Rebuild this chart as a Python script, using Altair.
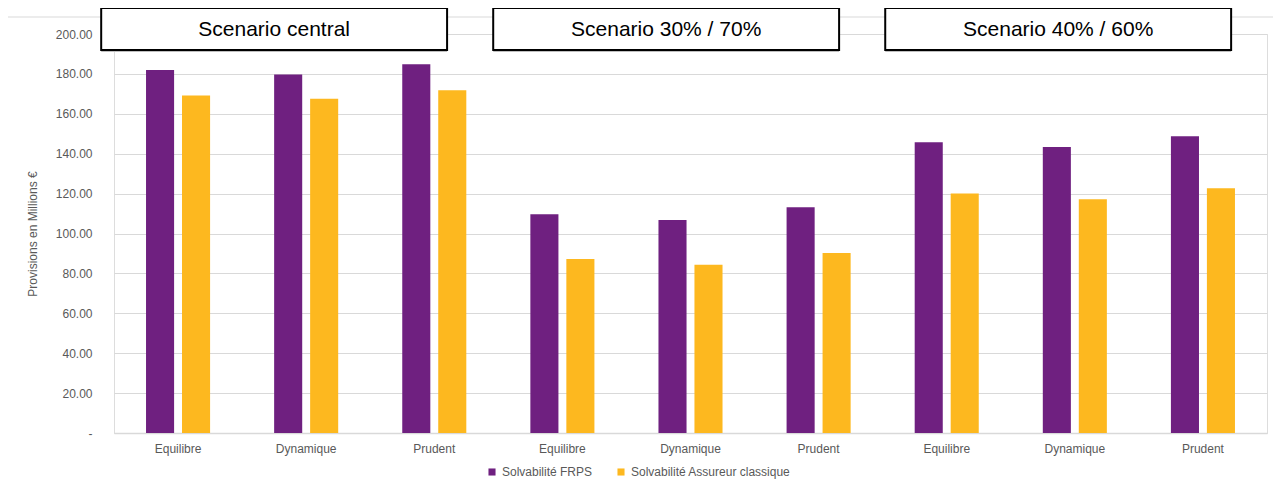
import altair as alt
import pandas as pd

scenarios = ["Scenario central", "Scenario 30% / 70%", "Scenario 40% / 60%"]
strategies = ["Equilibre", "Dynamique", "Prudent"]
series = ["Solvabilité FRPS", "Solvabilité Assureur classique"]
frps = [182.0, 179.7, 184.8, 109.7, 106.8, 113.2, 145.8, 143.3, 148.8]
assureur = [169.2, 167.5, 171.8, 87.2, 84.3, 90.2, 120.0, 117.2, 122.7]

rows = []
keys = []
i = 0
for s in scenarios:
    for st in strategies:
        key = f"{s}|{st}"
        keys.append(key)
        rows.append({"key": key, "serie": series[0], "value": frps[i]})
        rows.append({"key": key, "serie": series[1], "value": assureur[i]})
        i += 1
df = pd.DataFrame(rows)

GREY = "#595959"
FONT = "Liberation Sans"

bars = alt.Chart(df).mark_bar().encode(
    x=alt.X("key:N", sort=keys,
            scale=alt.Scale(paddingInner=0.5, paddingOuter=0.25),
            axis=alt.Axis(title=None, labelExpr="split(datum.label, '|')[1]",
                          labelAngle=0, ticks=False, labelPadding=10,
                          domainColor="#D9D9D9", domainWidth=1.5,
                          labelFontSize=12, labelColor=GREY, labelFont=FONT)),
    xOffset=alt.XOffset("serie:N", sort=series,
                        scale=alt.Scale(paddingInner=0.22, paddingOuter=0)),
    y=alt.Y("value:Q", scale=alt.Scale(domain=[0, 200]),
            axis=alt.Axis(title="Provisions en Millions €", values=list(range(0, 201, 20)),
                          labelExpr="datum.value == 0 ? '-\u00a0\u00a0\u00a0' : format(datum.value, '.2f')",
                          ticks=False, domain=False, labelPadding=22,
                          gridColor="#D9D9D9", labelFontSize=12, labelColor=GREY,
                          labelFont=FONT, titleFont=FONT, titleFontSize=12,
                          titleFontWeight="normal", titleColor=GREY, titlePadding=16)),
    color=alt.Color("serie:N", sort=series,
                    scale=alt.Scale(domain=series, range=["#6F2080", "#FDB81F"]),
                    legend=alt.Legend(title=None, orient="none", legendX=372, legendY=432,
                                      direction="horizontal", symbolType="square",
                                      symbolSize=50, labelFontSize=12, labelColor=GREY,
                                      labelFont=FONT, columnPadding=22, labelOffset=4)),
)

box_df = pd.DataFrame({
    "label": scenarios,
    "x0": [g * 3.06 - 0.1 for g in range(3)],
})
box_df["x1"] = box_df["x0"] + 2.7
box_df["xm"] = box_df["x0"] + 1.35

xq = alt.X("x0:Q", scale=alt.Scale(domain=[0, 9], nice=False, zero=False), axis=None)

shadow = alt.Chart(box_df).mark_rect(fill="#BFBFBF", clip=False).encode(
    x=xq, x2="x1:Q", y=alt.value(-24), y2=alt.value(18))
boxes = alt.Chart(box_df).mark_rect(fill="white", stroke="black", strokeWidth=2, clip=False).encode(
    x=xq, x2="x1:Q", y=alt.value(-26), y2=alt.value(16))
texts = alt.Chart(box_df).mark_text(font=FONT, fontSize=21, color="black", clip=False).encode(
    x=alt.X("xm:Q", scale=alt.Scale(domain=[0, 9], nice=False, zero=False), axis=None),
    y=alt.value(-4), text="label:N")

border = alt.Chart(alt.Data(values=[{}])).mark_rect(
    fill=None, stroke="#D9D9D9", strokeWidth=1, clip=False).encode(
    x=alt.value(-107), x2=alt.value(1175), y=alt.value(-17), y2=alt.value(470))

overlay = alt.layer(shadow, boxes, texts)

chart = alt.layer(border, bars, overlay).resolve_scale(x="independent").properties(
    width=1153, height=399,
    autosize=alt.AutoSizeParams(type="none"),
    padding={"left": 106, "top": 26, "right": 6, "bottom": 48},
).configure_view(stroke=None).configure(background="white")

chart.save("out.html", embed_options={"renderer": "svg", "actions": False})
